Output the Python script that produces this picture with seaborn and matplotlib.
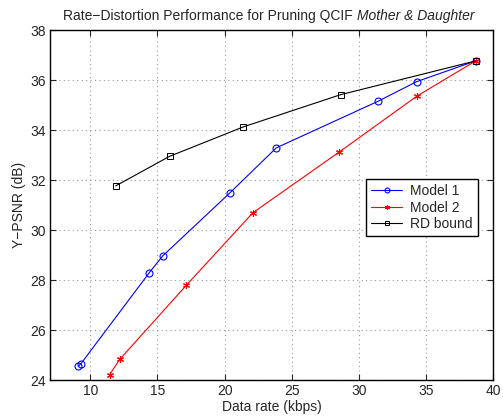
import numpy as np
import pandas as pd
import matplotlib
matplotlib.use("Agg")
import matplotlib.pyplot as plt
import seaborn as sns

# ── Data ──────────────────────────────────────────────────
model1_rate = [9.1, 9.3, 14.4, 15.4, 20.4, 23.85, 31.45, 34.3, 38.7]
model1_psnr = [24.55, 24.65, 28.3, 28.97, 31.49, 33.29, 35.16, 35.94, 36.77]

model2_rate = [11.45, 12.2, 17.15, 22.1, 28.5, 34.35, 38.7]
model2_psnr = [24.22, 24.83, 27.79, 30.69, 33.11, 35.37, 36.77]

rd_rate = [11.9, 15.9, 21.4, 28.65, 38.7]
rd_psnr = [31.77, 32.95, 34.13, 35.42, 36.77]

sns.set_style("ticks")
plt.rcParams["font.family"] = ["Liberation Sans", "DejaVu Sans"]
FS = 10

fig = plt.figure(figsize=(5.03, 4.16), dpi=100)
ax = fig.add_axes([0.0994, 0.0865, 0.881, 0.841])

sns.lineplot(x=model1_rate, y=model1_psnr, ax=ax, color="#0000ff", lw=0.8,
             marker="o", markersize=5, markerfacecolor="none",
             markeredgecolor="#0000ff", markeredgewidth=0.8,
             sort=False, estimator=None, label="Model 1")
sns.lineplot(x=model2_rate, y=model2_psnr, ax=ax, color="#ff0000", lw=0.8,
             marker=(6, 2, 0), markersize=5, markeredgecolor="#ff0000",
             markeredgewidth=0.8,
             sort=False, estimator=None, label="Model 2")
sns.lineplot(x=rd_rate, y=rd_psnr, ax=ax, color="black", lw=0.8,
             marker="s", markersize=4, markerfacecolor="none",
             markeredgecolor="black", markeredgewidth=0.7,
             sort=False, estimator=None, label="RD bound")

ax.set_xlim(7, 40)
ax.set_ylim(24, 38)
ax.set_xticks(np.arange(10, 41, 5))
ax.set_yticks(np.arange(24, 39, 2))
ax.grid(True, linestyle=(0, (1, 3)), color="#999999", lw=0.8)
ax.tick_params(direction="in", top=True, right=True, labelsize=FS,
               length=4, width=0.8, pad=3)
for sp in ax.spines.values():
    sp.set_linewidth(1.0)
    sp.set_color("black")

ax.set_xlabel("Data rate (kbps)", fontsize=FS, labelpad=1)
ax.set_ylabel("Y\u2212PSNR (dB)", fontsize=FS, labelpad=3)

# title: upright part + italic sequence name
t1 = fig.text(0.0, 0.0, "Rate\u2212Distortion Performance for Pruning QCIF ",
              fontsize=FS, ha="left", va="baseline")
t2 = fig.text(0.0, 0.0, "Mother & Daughter", fontsize=FS,
              style="italic", ha="left", va="baseline")
fig.canvas.draw()
r = fig.canvas.get_renderer()
w1 = t1.get_window_extent(r).width
w2 = t2.get_window_extent(r).width
x0 = 269 - (w1 + w2) / 2
ybase = 416 - 20
t1.set_position((x0 / 503, ybase / 416))
t2.set_position(((x0 + w1) / 503, ybase / 416))

leg = ax.legend(loc="upper left", bbox_to_anchor=(0.714, 0.574),
                fontsize=FS, frameon=True, fancybox=False,
                edgecolor="black", framealpha=1, borderpad=0.36,
                handlelength=2.2, labelspacing=0.17, handletextpad=0.6,
                borderaxespad=0)
leg.get_frame().set_linewidth(1.0)
for h in leg.legend_handles:
    h.set_markersize(3.5)

plt.savefig("out.png", dpi=100)
plt.close()
